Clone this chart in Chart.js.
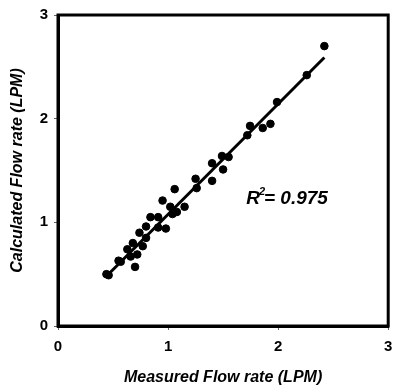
<!doctype html>
<html lang="en">
<head>
<meta charset="utf-8">
<title>Flow rate</title>
<script src="https://cdn.jsdelivr.net/npm/chart.js@4/dist/chart.umd.min.js"></script>
<style>
  body { margin: 0; background: #fff; }
  #wrap { width: 393px; height: 389px; }
</style>
</head>
<body>
<div id="wrap"><canvas id="flowChart" width="393" height="389"></canvas></div>
<script>
// values (LPM)
var measured = [0.44, 0.46, 0.55, 0.57, 0.63, 0.66, 0.68, 0.70, 0.72, 0.74,
                0.77, 0.80, 0.80, 0.84, 0.91, 0.91, 0.95, 0.98, 1.02, 1.04,
                1.08, 1.15, 1.06, 1.25, 1.26, 1.40, 1.40, 1.50, 1.49, 1.55,
                1.72, 1.745, 1.86, 1.93, 1.99, 2.26, 2.42];
var calculated = [0.50, 0.49, 0.63, 0.62, 0.74, 0.67, 0.80, 0.57, 0.69, 0.90,
                  0.77, 0.96, 0.85, 1.05, 0.95, 1.05, 1.21, 0.94, 1.15, 1.08,
                  1.10, 1.15, 1.32, 1.42, 1.33, 1.40, 1.57, 1.51, 1.64, 1.63,
                  1.84, 1.93, 1.91, 1.95, 2.16, 2.42, 2.70];
var fitX = [0.44, 2.42];
var fitY = [0.48, 2.59];
var axisTicks = [0, 1, 2, 3];
var r2Label = "0.975";

var FONT = "'Liberation Sans', Arial, sans-serif";

var points = [];
for (var i = 0; i < measured.length; i++) {
  points.push({x: measured[i], y: calculated[i]});
}
var fitLine = fitX.map(function(x, i) { return {x: x, y: fitY[i]}; });

// box round the plot + the R^2 note
var framePlugin = {
  id: 'frame',
  beforeDatasetsDraw: function(chart) {
    var a = chart.chartArea, ctx = chart.ctx;
    ctx.save();
    ctx.strokeStyle = '#000';
    ctx.lineWidth = 3;
    ctx.strokeRect(a.left, a.top, a.right - a.left, a.bottom - a.top);
    ctx.restore();
  },
  afterDatasetsDraw: function(chart) {
    var ctx = chart.ctx;
    var px = chart.scales.x.getPixelForValue(1.71);
    var py = chart.scales.y.getPixelForValue(1.18);
    ctx.save();
    ctx.fillStyle = '#000';
    ctx.textBaseline = 'alphabetic';
    ctx.font = 'italic bold 19px ' + FONT;
    ctx.fillText('R', px, py);
    var w = ctx.measureText('R').width;
    ctx.font = 'italic bold 11px ' + FONT;
    ctx.fillText('2', px + w - 1, py - 9);
    ctx.font = 'italic bold 19px ' + FONT;
    ctx.fillText('= ' + r2Label, px + w + 4, py);
    ctx.restore();
  }
};

var ctx = document.getElementById('flowChart').getContext('2d');
var flowChart = new Chart(ctx, {
  type: 'scatter',
  data: {
    datasets: [{
      data: points,
      backgroundColor: '#000',
      borderColor: '#000',
      pointRadius: 3.8,
      pointHoverRadius: 3.8
    }, {
      type: 'line',
      data: fitLine,
      borderColor: '#000',
      borderWidth: 3,
      pointRadius: 0,
      fill: false
    }]
  },
  options: {
    responsive: false,
    animation: false,
    layout: { padding: { top: 15, right: 3, left: 0, bottom: 0 } },
    plugins: { legend: { display: false }, tooltip: { enabled: false } },
    scales: {
      x: {
        type: 'linear', min: 0, max: 3,
        afterBuildTicks: function(s) { s.ticks = axisTicks.map(function(v) { return {value: v}; }); },
        afterFit: function(s) { s.height = 63; s.paddingLeft = 0; s.paddingRight = 0; },
        grid: { drawOnChartArea: false, tickLength: 4, tickColor: '#666', tickWidth: 1 },
        border: { color: '#000', width: 3 },
        ticks: { color: '#000', padding: 8, font: { family: FONT, size: 15, weight: 'bold' } },
        title: {
          display: true, text: 'Measured Flow rate (LPM)', color: '#000',
          padding: { top: 0, bottom: 2 },
          font: { family: FONT, size: 16, weight: 'bold', style: 'italic' }
        }
      },
      y: {
        type: 'linear', min: 0, max: 3,
        afterBuildTicks: function(s) { s.ticks = axisTicks.map(function(v) { return {value: v}; }); },
        afterFit: function(s) { s.width = 58; },
        grid: { drawOnChartArea: false, tickLength: 4, tickColor: '#666', tickWidth: 1 },
        border: { color: '#000', width: 3 },
        ticks: { color: '#000', padding: 6, font: { family: FONT, size: 15, weight: 'bold' } },
        title: {
          display: true, text: 'Calculated Flow rate (LPM)', color: '#000',
          padding: { top: 8, bottom: 0 },
          font: { family: FONT, size: 16, weight: 'bold', style: 'italic' }
        }
      }
    }
  },
  plugins: [framePlugin]
});
</script>
</body>
</html>
